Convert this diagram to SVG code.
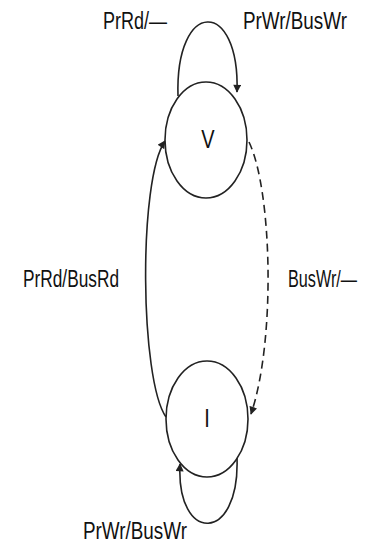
<svg xmlns="http://www.w3.org/2000/svg" width="365" height="545" viewBox="0 0 365 545">
  <defs>
    <style>
      .state { fill: #ffffff; stroke: #222222; stroke-width: 1.6; }
      .edge { fill: none; stroke: #222222; stroke-width: 1.6; }
      .dashed { stroke-dasharray: 8 5; }
      .lbl { font-family: "Liberation Sans", Arial, sans-serif; font-size: 19px; fill: #111111; }
      .name { font-family: "Liberation Sans", Arial, sans-serif; font-size: 20px; fill: #111111; text-anchor: middle; }
    </style>
    <marker id="arrow" viewBox="0 0 10 10" refX="9" refY="5" markerWidth="9" markerHeight="8" markerUnits="userSpaceOnUse" orient="auto">
      <path d="M0,0 L10,5 L0,10 Z" fill="#222222"/>
    </marker>
  </defs>
  <rect width="365" height="545" fill="#ffffff"/>

  <g id="connectors">
    <path class="edge" d="M178,96 C175,-2 240,-2 237,92" marker-end="url(#arrow)"/>
    <path class="edge" d="M237,458 C240,544 176,544 180,464" marker-end="url(#arrow)"/>
    <path class="edge" d="M166,417 C140,380 138,180 165,141" marker-end="url(#arrow)"/>
    <path class="edge dashed" d="M249,142 C272,190 276,340 251,414" marker-end="url(#arrow)"/>
  </g>

  <g id="node-V">
    <ellipse class="state" cx="206" cy="140" rx="41" ry="58"/>
    <text class="name" transform="translate(208,148) scale(1,1.3)">V</text>
  </g>
  <g id="node-I">
    <ellipse class="state" cx="207" cy="419" rx="41" ry="58"/>
    <text class="name" transform="translate(207,427) scale(1,1.3)">I</text>
  </g>

  <g id="labels">
    <text class="lbl" transform="translate(103,29) scale(1,1.3)" textLength="64" lengthAdjust="spacingAndGlyphs">PrRd/—</text>
    <text class="lbl" transform="translate(243,29) scale(1,1.3)" textLength="104" lengthAdjust="spacingAndGlyphs">PrWr/BusWr</text>
    <text class="lbl" transform="translate(23,287) scale(1,1.3)" textLength="96" lengthAdjust="spacingAndGlyphs">PrRd/BusRd</text>
    <text class="lbl" style="font-size:17px" transform="translate(288,287) scale(1,1.45)" textLength="69" lengthAdjust="spacingAndGlyphs">BusWr/—</text>
    <text class="lbl" transform="translate(83,539) scale(1,1.3)" textLength="104" lengthAdjust="spacingAndGlyphs">PrWr/BusWr</text>
  </g>
</svg>
